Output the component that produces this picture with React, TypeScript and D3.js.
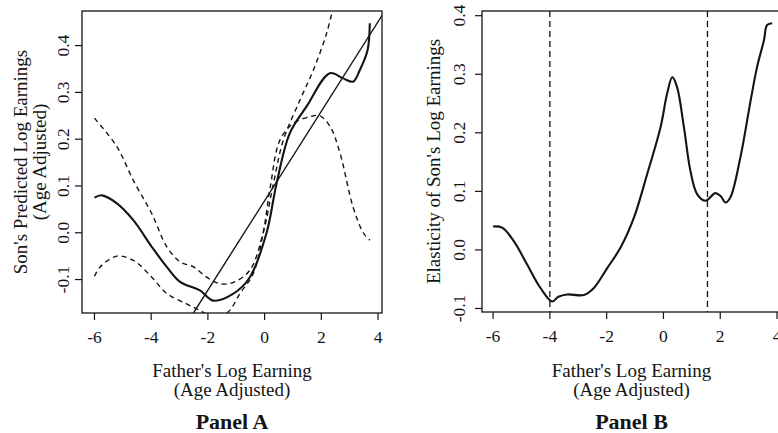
import { scaleLinear, line, curveCatmullRom } from 'd3';

// Panel A: fitted non-parametric curve, 95% bands and OLS line
const xTicks = [-6, -4, -2, 0, 2, 4];
const yTicksA = [-0.1, 0.0, 0.1, 0.2, 0.3, 0.4];
const yTicksB = [-0.1, 0.0, 0.1, 0.2, 0.3, 0.4];

const fitA: [number, number][] = [
  [-6.0, 0.075], [-5.74, 0.08], [-5.21, 0.063], [-4.63, 0.027], [-3.98, -0.03],
  [-3.45, -0.073], [-2.98, -0.105], [-2.28, -0.123], [-1.81, -0.145], [-1.1, -0.13],
  [-0.52, -0.095], [0.07, 0.0], [0.42, 0.105], [0.89, 0.213], [1.48, 0.27],
  [2.3, 0.341], [2.77, 0.33], [3.12, 0.323], [3.36, 0.348], [3.63, 0.39], [3.71, 0.448],
];

const upperA: [number, number][] = [
  [-6.0, 0.245], [-5.21, 0.184], [-4.63, 0.112], [-3.98, 0.041], [-3.45, -0.03],
  [-2.98, -0.062], [-2.51, -0.073], [-2.04, -0.095], [-1.57, -0.109], [-1.1, -0.106],
  [-0.52, -0.08], [-0.05, 0.0], [0.31, 0.105], [0.66, 0.198], [1.25, 0.284],
  [1.72, 0.348], [2.19, 0.427], [2.45, 0.49],
];

const lowerA: [number, number][] = [
  [-6.0, -0.093], [-5.8, -0.073], [-5.21, -0.05], [-4.63, -0.059], [-3.98, -0.095],
  [-3.45, -0.13], [-2.75, -0.152], [-2.28, -0.166], [-1.8, -0.18], [-1.3, -0.17],
  [-0.87, -0.13], [-0.4, -0.087], [-0.05, 0.0], [0.2, 0.098], [0.54, 0.198],
  [1.01, 0.234], [1.6, 0.248], [1.95, 0.25], [2.31, 0.227], [2.66, 0.17],
  [3.12, 0.055], [3.48, 0.0], [3.71, -0.016],
];

const olsA: [number, number][] = [[-2.6, -0.18], [4.2, 0.47]];

// Panel B: elasticity curve and cut-off points
const elasticityB: [number, number][] = [
  [-6.0, 0.04], [-5.68, 0.038], [-5.27, 0.015], [-4.8, -0.025], [-4.33, -0.065],
  [-3.92, -0.088], [-3.7, -0.08], [-3.39, -0.076], [-2.8, -0.077], [-2.45, -0.065],
  [-1.98, -0.031], [-1.51, 0.004], [-1.04, 0.055], [-0.57, 0.13], [-0.1, 0.21],
  [0.13, 0.267], [0.31, 0.295], [0.48, 0.278], [0.72, 0.21], [0.95, 0.135],
  [1.19, 0.095], [1.48, 0.084], [1.83, 0.097], [2.01, 0.092], [2.19, 0.081],
  [2.36, 0.09], [2.71, 0.158], [3.07, 0.255], [3.3, 0.313], [3.54, 0.358],
  [3.65, 0.384], [3.83, 0.387],
];
const cutoffsB = [-4.0, 1.55];

const FONT = "'Liberation Serif', 'DejaVu Serif', serif";
const INK = '#141414';

type PanelProps = {
  id: string;
  left: number;
  right: number;
  top: number;
  bottom: number;
  xDomain: [number, number];
  yDomain: [number, number];
  yTicks: number[];
  yTickGap: number;
  yTitle: string[];
  yTitleX: number[];
  panel: string;
  children: (x: any, y: any) => any;
};

const Panel = ({ id, left, right, top, bottom, xDomain, yDomain, yTicks, yTickGap, yTitle, yTitleX, panel, children }: PanelProps) => {
  const x = scaleLinear().domain(xDomain).range([left, right]);
  const y = scaleLinear().domain(yDomain).range([bottom, top]);
  const cx = (left + right) / 2;
  const cy = (top + bottom) / 2;
  return (
    <g>
      <defs>
        <clipPath id={id}>
          <rect x={left} y={top} width={right - left} height={bottom - top} />
        </clipPath>
      </defs>
      <g clipPath={`url(#${id})`}>{children(x, y)}</g>
      <rect x={left} y={top} width={right - left} height={bottom - top} fill="none" stroke={INK} strokeWidth={1.3} />
      {xTicks.map((t) => (
        <g key={t}>
          <line x1={x(t)} x2={x(t)} y1={bottom} y2={bottom + 7} stroke={INK} strokeWidth={1.2} />
          <text x={x(t)} y={bottom + 30} textAnchor="middle" fontSize={17.5} fontFamily={FONT} fill={INK}>
            {t}
          </text>
        </g>
      ))}
      {yTicks.map((t) => (
        <g key={t}>
          <line x1={left - 7} x2={left} y1={y(t)} y2={y(t)} stroke={INK} strokeWidth={1.2} />
          <text
            transform={`translate(${left - yTickGap},${y(t)}) rotate(-90)`}
            textAnchor="middle"
            fontSize={17.5}
            fontFamily={FONT}
            fill={INK}
          >
            {t.toFixed(1)}
          </text>
        </g>
      ))}
      {yTitle.map((s, i) => (
        <text
          key={s}
          transform={`translate(${yTitleX[i]},${cy}) rotate(-90)`}
          textAnchor="middle"
          fontSize={19}
          fontFamily={FONT}
          fill={INK}
        >
          {s}
        </text>
      ))}
      <text x={cx} y={377} textAnchor="middle" fontSize={19} fontFamily={FONT} fill={INK}>
        Father's Log Earning
      </text>
      <text x={cx} y={396} textAnchor="middle" fontSize={19} fontFamily={FONT} fill={INK}>
        (Age Adjusted)
      </text>
      <text x={cx} y={429} textAnchor="middle" fontSize={22} fontWeight="bold" fontFamily={FONT} fill={INK}>
        {panel}
      </text>
    </g>
  );
};

export default function App() {
  const curve = (x: any, y: any) =>
    line<[number, number]>()
      .x((d) => x(d[0]))
      .y((d) => y(d[1]))
      .curve(curveCatmullRom.alpha(0.5));

  return (
    <svg
      width={778}
      height={433}
      viewBox="0 0 778 433"
      style={{ position: 'absolute', left: 0, top: 0, background: '#fff' }}
    >
      <rect width={778} height={433} fill="#fff" />
      <Panel
        id="clipA"
        left={82}
        right={382}
        top={11}
        bottom={313}
        xDomain={[-6.44, 4.14]}
        yDomain={[-0.1715, 0.474]}
        yTicks={yTicksA}
        yTickGap={13}
        yTitle={["Son's Predicted Log Earnings", '(Age Adjusted)']}
        yTitleX={[27, 46]}
        panel="Panel A"
      >
        {(x: any, y: any) => {
          const gen = curve(x, y);
          return (
            <g fill="none" stroke={INK}>
              <path d={gen(upperA) || ''} strokeWidth={1.4} strokeDasharray="5,4" />
              <path d={gen(lowerA) || ''} strokeWidth={1.4} strokeDasharray="5,4" />
              <path d={line()(olsA.map((d) => [x(d[0]), y(d[1])])) || ''} strokeWidth={1.4} />
              <path d={gen(fitA) || ''} strokeWidth={2.1} />
            </g>
          );
        }}
      </Panel>
      <Panel
        id="clipB"
        left={482}
        right={781}
        top={11}
        bottom={312}
        xDomain={[-6.39, 4.14]}
        yDomain={[-0.106, 0.408]}
        yTicks={yTicksB}
        yTickGap={17}
        yTitle={["Elasticity of Son's Log Earnings"]}
        yTitleX={[440]}
        panel="Panel B"
      >
        {(x: any, y: any) => {
          const gen = curve(x, y);
          return (
            <g fill="none" stroke={INK}>
              {cutoffsB.map((c) => (
                <line key={c} x1={x(c)} x2={x(c)} y1={y(-0.2)} y2={y(0.5)} strokeWidth={1.3} strokeDasharray="6,4" />
              ))}
              <path d={gen(elasticityB) || ''} strokeWidth={2.1} />
            </g>
          );
        }}
      </Panel>
    </svg>
  );
}
